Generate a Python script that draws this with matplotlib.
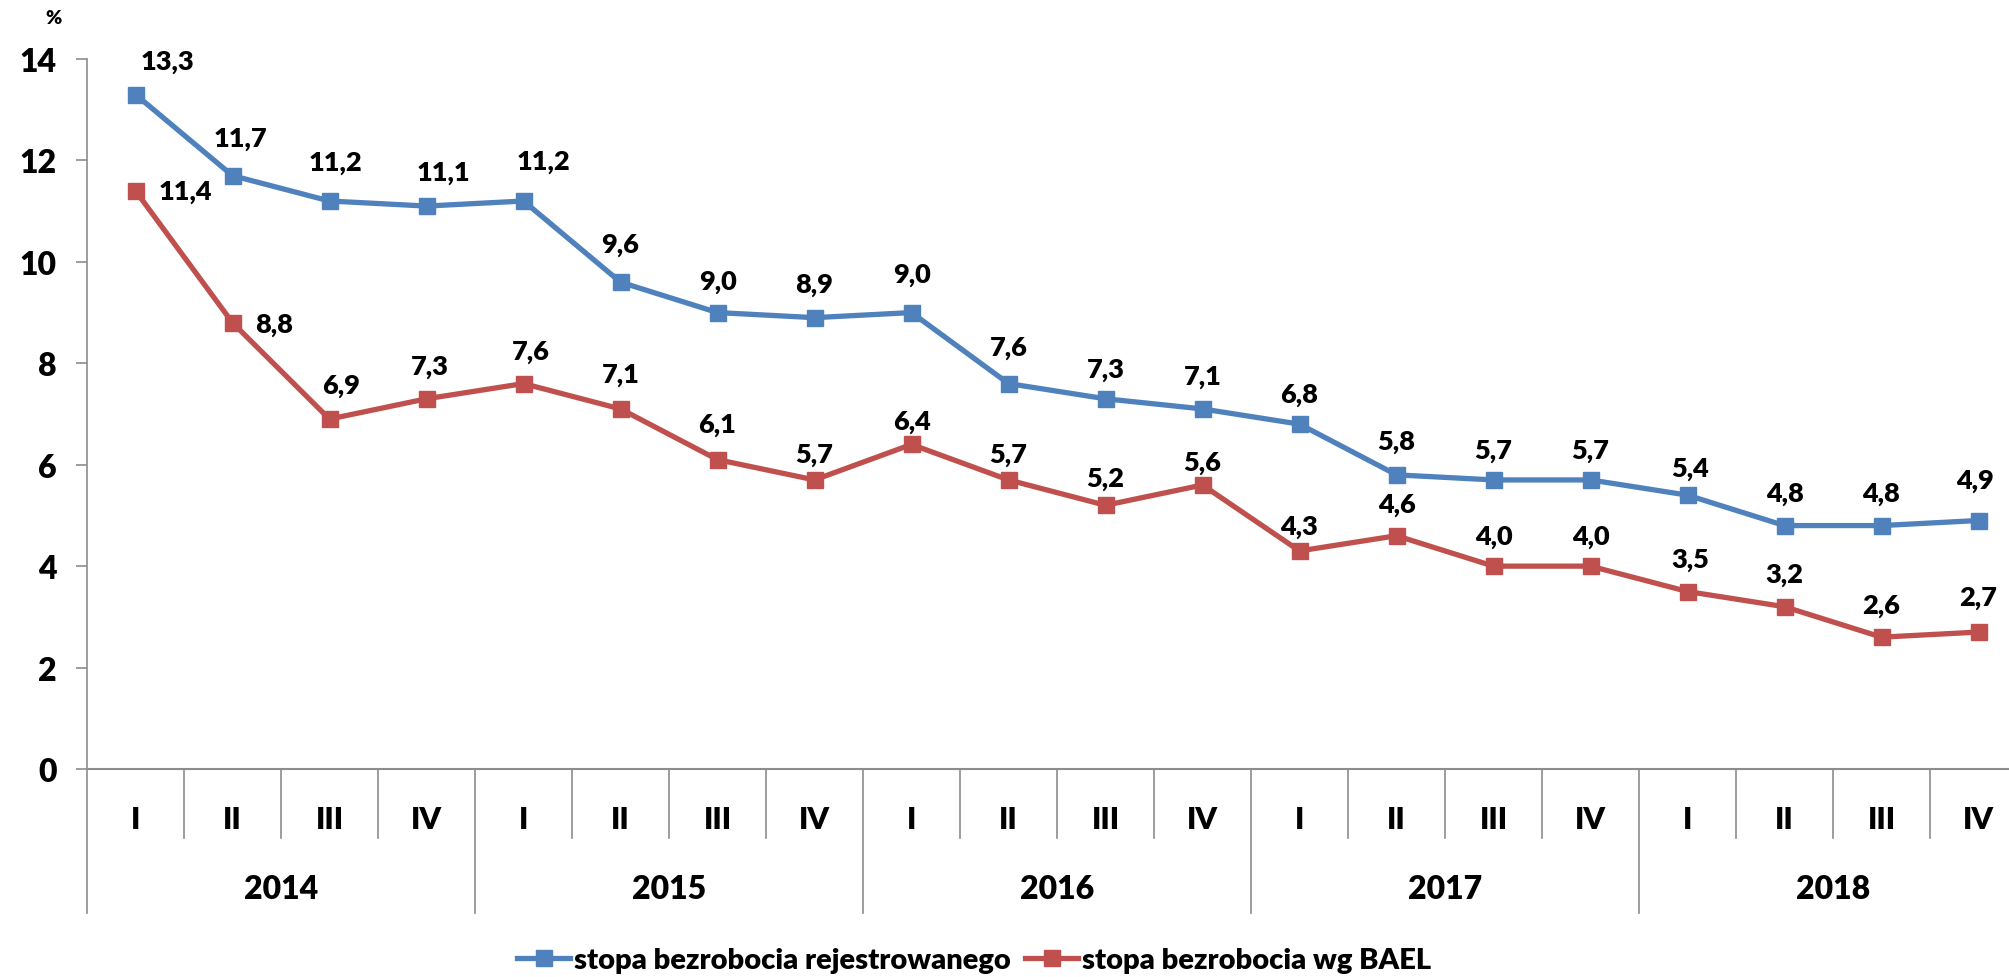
import matplotlib
matplotlib.use('Agg')
import matplotlib.pyplot as plt
import matplotlib.transforms as mtransforms

plt.rcParams['font.family'] = ['Lato', 'DejaVu Sans']
plt.rcParams['font.weight'] = 'bold'

# data
years = ['2014', '2015', '2016', '2017', '2018']
quarters = ['I', 'II', 'III', 'IV']
registered = [13.3, 11.7, 11.2, 11.1, 11.2, 9.6, 9.0, 8.9, 9.0, 7.6, 7.3, 7.1,
              6.8, 5.8, 5.7, 5.7, 5.4, 4.8, 4.8, 4.9]
bael = [11.4, 8.8, 6.9, 7.3, 7.6, 7.1, 6.1, 5.7, 6.4, 5.7, 5.2, 5.6,
        4.3, 4.6, 4.0, 4.0, 3.5, 3.2, 2.6, 2.7]
series_names = ['stopa bezrobocia rejestrowanego', 'stopa bezrobocia wg BAEL']

# label offsets in pixels from each marker
blue_dx = [32, 8, 6, 17, 20, 0, 0, 0, 0, 0, 0, 0, 0, 0, 0, 0, 3, 0, 0, -3]
blue_dy = [33, 38, 39, 34, 40, 38, 32, 34, 39, 37, 30, 33, 30, 34, 30, 30, 27, 33, 33, 40]
red_dx = [50, 42, 12, 3, 7, 0, 0, 0, 0, 0, 0, 0, 0, 0, 0, 0, 3, 0, 0, 0]
red_dy = [0, -1, 34, 33, 33, 35, 36, 26, 23, 26, 27, 23, 25, 32, 30, 30, 33, 33, 32, 35]

BLUE = '#4F81BD'
RED = '#C0504D'
GRAY = '#8C8C8C'
W = 'heavy'

fig = plt.figure(figsize=(20.09, 9.78), dpi=100)
ax = fig.add_axes([87 / 2009, 1 - 770 / 978, 1940 / 2009, 710 / 978])

n = len(registered)
xs = list(range(n))

ax.plot(xs, registered, color=BLUE, lw=3.8, marker='s', ms=11, label=series_names[0])
ax.plot(xs, bael, color=RED, lw=3.8, marker='s', ms=11, label=series_names[1])

for i, v in enumerate(registered):
    ax.annotate(('%.1f' % v).replace('.', ','), (i, v), xytext=(blue_dx[i], blue_dy[i]),
                textcoords='offset pixels', ha='center', va='center',
                fontsize=19.5, fontweight=W)
for i, v in enumerate(bael):
    ax.annotate(('%.1f' % v).replace('.', ','), (i, v), xytext=(red_dx[i], red_dy[i]),
                textcoords='offset pixels', ha='center', va='center',
                fontsize=19.5, fontweight=W)

ax.set_xlim(-0.5, n - 0.5)
ax.set_ylim(0, 14)
ax.set_yticks(range(0, 15, 2))
ax.tick_params(axis='y', length=8, width=1.2, color=GRAY, labelsize=23, pad=14)
ax.set_xticks([])
for lab in ax.get_yticklabels():
    lab.set_fontweight(W)

ax.spines['top'].set_visible(False)
ax.spines['right'].set_visible(False)
ax.spines['left'].set_color(GRAY)
ax.spines['bottom'].set_color(GRAY)
ax.spines['left'].set_linewidth(1.2)
ax.spines['bottom'].set_linewidth(1.5)

# category axis: quarter and year separators
trans = mtransforms.blended_transform_factory(ax.transData, ax.transAxes)
for k in range(n + 1):
    bottom = -0.203 if k % 4 == 0 else -0.097
    ax.plot([k - 0.5, k - 0.5], [0, bottom], transform=trans, color=GRAY,
            lw=1.2, clip_on=False)
for i in range(n):
    ax.text(i, -0.070, quarters[i % 4], transform=trans, ha='center',
            va='center', fontsize=22, fontweight=W)
for j, y in enumerate(years):
    ax.text(j * 4 + 1.5, -0.168, y, transform=trans, ha='center',
            va='center', fontsize=23, fontweight=W)

fig.text(54 / 2009, 1 - 19 / 978, '%', ha='center', va='center',
         fontsize=14, fontweight=W)

fig.legend(loc='center', bbox_to_anchor=(0.485, 0.017), ncol=2, frameon=False,
           handlelength=1.8, handletextpad=0.15, columnspacing=0.5,
           prop={'weight': W, 'size': 21})

fig.savefig('out.png', dpi=100)
